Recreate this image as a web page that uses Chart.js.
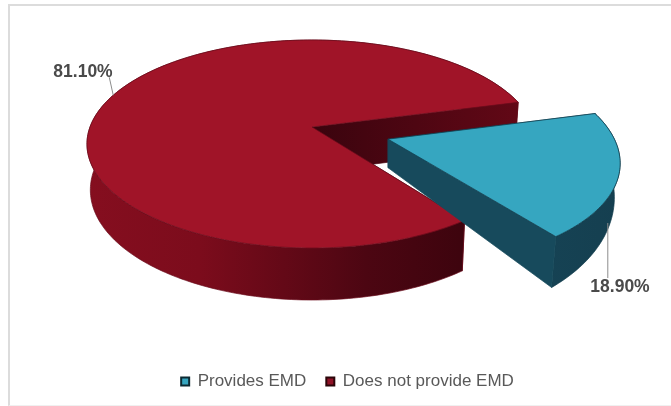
<!DOCTYPE html>
<html>
<head>
<meta charset="utf-8">
<title>EMD pie</title>
<script src="https://cdn.jsdelivr.net/npm/chart.js@4/dist/chart.umd.min.js"></script>
<style>
    html, body { margin: 0; padding: 0; background: #fff; overflow: hidden; }
    #frame { position: absolute; left: 8px; top: 4px; width: 670px; height: 402px; border: 2px solid #dcdcdc; border-bottom: 1px solid #f0f0f0; box-sizing: border-box; }
    #pie { position: absolute; left: 0; top: 0; }
</style>
</head>
<body>
<div id="frame"></div>
<canvas id="pie" width="671" height="406"></canvas>
<script>
// data
const categories = ['Provides EMD', 'Does not provide EMD'];
const shares = [18.9, 81.1];
const shareLabels = ['18.90%', '81.10%'];

// colours
const topColors = ['#36a6c0', '#a01428'];
const legendEdges = ['#0c2a33', '#2a0509'];
const legendFills = ['#36a6c0', '#8f1226'];

// fake 3d view, the pie is a flat disc seen through a small perspective
const view = { cx: 312, cy: 127, rx: 222, ry: 101.2, persp: 0.1635 };
const explode = [0.356, 0];
const walls = [
    { x0: 388, y0: 141, base: 29, slope: 0.229, sx: 0.975 },
    { x0: 312, y0: 127, base: 45, slope: 0.058, sx: 0.985 }
];

function project(u, v) {
    let w = 1 - view.persp * v;
    return { x: view.cx + view.rx * u / w, y: view.cy + view.ry * v / w };
}

function lower(p, i) {
    let wall = walls[i];
    return {
        x: wall.x0 + (p.x - wall.x0) * wall.sx,
        y: p.y + wall.base + wall.slope * (p.y - wall.y0)
    };
}

function slicePoints(el, i) {
    let mid = (el.startAngle + el.endAngle) / 2;
    let ou = Math.cos(mid) * explode[i];
    let ov = Math.sin(mid) * explode[i];
    let pts = [];
    let steps = Math.ceil((el.endAngle - el.startAngle) / 0.02);
    for (let s = 0; s <= steps; s++) {
        let a = el.startAngle + (el.endAngle - el.startAngle) * s / steps;
        pts.push(project(ou + Math.cos(a), ov + Math.sin(a)));
    }
    return {
        apex: project(ou, ov),
        arc: pts,
        mid: project(ou + Math.cos(mid), ov + Math.sin(mid))
    };
}

function fillPoly(ctx, pts, fill, edge) {
    ctx.beginPath();
    pts.forEach((p, n) => n ? ctx.lineTo(p.x, p.y) : ctx.moveTo(p.x, p.y));
    ctx.closePath();
    ctx.fillStyle = fill;
    ctx.fill();
    ctx.lineWidth = 0.7;
    ctx.strokeStyle = edge;
    ctx.stroke();
}

const pie3d = {
    id: 'pie3d',
    // replaces the flat arcs, angles still come from the arc elements
    beforeDatasetsDraw(chart) {
        let ctx = chart.ctx;
        let arcs = chart.getDatasetMeta(0).data;

        let redSide = ctx.createLinearGradient(88, 0, 460, 0);
        redSide.addColorStop(0, '#850e1f');
        redSide.addColorStop(0.3, '#7c0c1c');
        redSide.addColorStop(0.75, '#4c0612');
        redSide.addColorStop(1, '#3e040e');
        let tealSide = ctx.createLinearGradient(388, 0, 618, 0);
        tealSide.addColorStop(0, '#174a5c');
        tealSide.addColorStop(1, '#153f50');
        let redWall = ctx.createLinearGradient(312, 0, 519, 0);
        redWall.addColorStop(0, '#3a040e');
        redWall.addColorStop(1, '#620816');
        const sides = [tealSide, redSide];
        const innerWalls = ['#174a5c', redWall];
        const edges = ['#0f3a49', '#6a0c1b'];

        // red first, the pulled out teal slice sits in front of it
        [1, 0].forEach(i => {
            let sl = slicePoints(arcs[i], i);
            let low = sl.arc.map(p => lower(p, i));
            let lowApex = lower(sl.apex, i);
            let first = sl.arc[0], last = sl.arc[sl.arc.length - 1];
            // the wall at the start angle faces away, so it goes under the rim
            fillPoly(ctx, [sl.apex, first, low[0], lowApex], innerWalls[i], innerWalls[i]);
            fillPoly(ctx, sl.arc.concat(low.slice().reverse()), sides[i], edges[i]);
            fillPoly(ctx, [sl.apex, last, low[low.length - 1], lowApex], innerWalls[i], innerWalls[i]);
            fillPoly(ctx, [sl.apex].concat(sl.arc), topColors[i], edges[i]);
        });

        // leader lines and value labels
        const leaders = [
            { fromWall: true, sx: -5, sy: 10, dx: 0, dy: 55, tx: 620, ty: 287 },
            { fromWall: false, sx: 0, sy: 0, dx: -4, dy: -18, tx: 83, ty: 72 }
        ];
        ctx.font = 'bold 17.5px "Liberation Sans"';
        ctx.textAlign = 'center';
        ctx.textBaseline = 'middle';
        leaders.forEach((l, i) => {
            let mid = slicePoints(arcs[i], i).mid;
            let p = l.fromWall ? lower(mid, i) : mid;
            ctx.beginPath();
            ctx.moveTo(p.x + l.sx, p.y + l.sy);
            ctx.lineTo(p.x + l.sx + l.dx, p.y + l.sy + l.dy);
            ctx.lineWidth = 1;
            ctx.strokeStyle = '#8c8c8c';
            ctx.stroke();
            ctx.fillStyle = '#4a4a4a';
            ctx.fillText(shareLabels[i], l.tx, l.ty);
        });
        return false;
    }
};

new Chart(document.getElementById('pie'), {
    type: 'pie',
    data: {
        labels: categories,
        datasets: [{
            data: shares,
            backgroundColor: legendFills,
            borderColor: legendEdges,
            borderWidth: 2
        }]
    },
    options: {
        responsive: false,
        animation: false,
        rotation: 75.3,
        layout: { padding: { left: 24, bottom: 6 } },
        plugins: {
            tooltip: { enabled: false },
            legend: {
                position: 'bottom',
                fullSize: false,
                labels: {
                    boxWidth: 8,
                    boxHeight: 8,
                    padding: 20,
                    color: '#595959',
                    font: { family: '"Liberation Sans"', size: 17 }
                }
            }
        }
    },
    plugins: [pie3d]
});
</script>
</body>
</html>
